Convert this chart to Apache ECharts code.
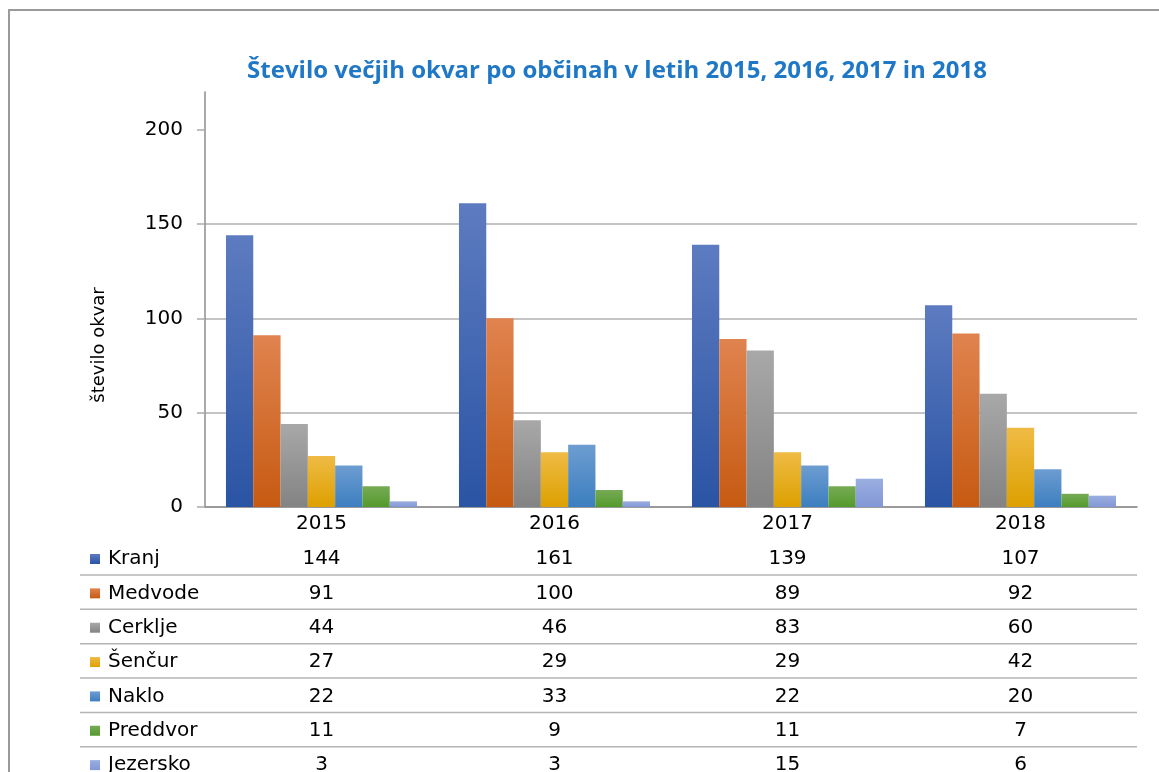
<!DOCTYPE html>
<html>
<head>
<meta charset="utf-8">
<script src="https://cdn.jsdelivr.net/npm/echarts@6/dist/echarts.min.js"></script>
<style>
  html, body { margin: 0; padding: 0; background: #fff; }
  #chart { width: 1159px; height: 772px; }
</style>
</head>
<body>
<div id="chart"></div>
<script>
const years = ['2015', '2016', '2017', '2018'];
const municipalities = ['Kranj', 'Medvode', 'Cerklje', 'Šenčur', 'Naklo', 'Preddvor', 'Jezersko'];
const kranj = [144, 161, 139, 107];
const medvode = [91, 100, 89, 92];
const cerklje = [44, 46, 83, 60];
const sencur = [27, 29, 29, 42];
const naklo = [22, 33, 22, 20];
const preddvor = [11, 9, 11, 7];
const jezersko = [3, 3, 15, 6];
const yTicks = [0, 50, 100, 150, 200];

const seriesValues = [kranj, medvode, cerklje, sencur, naklo, preddvor, jezersko];
// top / bottom colour of each bar gradient
const barColors = [
  ['#5d7bc0', '#2a54a4'],
  ['#e0834f', '#c65a12'],
  ['#a8a8a8', '#838383'],
  ['#efbb45', '#dda000'],
  ['#6d9dd1', '#3c7ebf'],
  ['#76ab55', '#549a2c'],
  ['#9aaee0', '#8297d6']
];

const font = 'DejaVu Sans';
const rowPitch = 34.35;

const chart = echarts.init(document.getElementById('chart'));

// one hidden-line category axis per table row, showing that row's values
const tableAxes = seriesValues.map((vals, i) => ({
  type: 'category',
  gridIndex: 0,
  position: 'bottom',
  offset: 35 + rowPitch * i,
  data: vals.map(String),
  axisLine: { show: false },
  axisTick: { show: false },
  splitLine: { show: false },
  axisLabel: { color: '#000', fontFamily: font, fontSize: 20, margin: 7 }
}));

const rowLines = [];
for (let i = 0; i < municipalities.length - 1; i++) {
  const y = 575 + rowPitch * i;
  rowLines.push({
    type: 'line',
    shape: { x1: 80, y1: y, x2: 1137, y2: y },
    style: { stroke: '#b4b4b4', lineWidth: 1.5 },
    silent: true
  });
}

const option = {
  animation: false,
  backgroundColor: '#fff',
  title: {
    text: 'Število večjih okvar po občinah v letih 2015, 2016, 2017 in 2018',
    left: 612,
    top: 54,
    textAlign: 'center',
    textStyle: { color: '#1f78c6', fontFamily: 'Open Sans', fontWeight: 'bold', fontSize: 24 }
  },
  legend: {
    orient: 'vertical',
    left: 90,
    top: 549,
    height: 260,
    padding: 0,
    itemWidth: 10,
    itemHeight: 10,
    itemGap: rowPitch - 20,
    icon: 'rect',
    selectedMode: false,
    textStyle: { color: '#000', fontFamily: font, fontSize: 20, lineHeight: 20, padding: [0, 0, 0, 3] },
    data: municipalities
  },
  grid: { left: 205, right: 22, top: 92, bottom: 265, containLabel: false, outerBoundsMode: 'none' },
  xAxis: [
    {
      type: 'category',
      data: years,
      axisLine: { lineStyle: { color: '#8c8c8c', width: 1.5 } },
      axisTick: { show: false },
      axisLabel: { color: '#000', fontFamily: font, fontSize: 20, margin: 7 }
    }
  ].concat(tableAxes),
  yAxis: {
    type: 'value',
    min: 0,
    max: 220,
    interval: 50,
    name: 'število okvar',
    nameLocation: 'middle',
    nameGap: 97,
    nameRotate: 90,
    nameTextStyle: { color: '#000', fontFamily: font, fontSize: 18, padding: [0, 91, 0, 0] },
    axisLine: { show: true, lineStyle: { color: '#8c8c8c', width: 1.5 } },
    axisTick: { show: true, length: 8, customValues: yTicks, lineStyle: { color: '#aaa', width: 1.5 } },
    axisLabel: { color: '#000', fontFamily: font, fontSize: 20, margin: 22, customValues: yTicks },
    splitLine: { showMaxLine: false, lineStyle: { color: '#b0b0b0', width: 1.5 } }
  },
  series: municipalities.map((name, i) => ({
    name: name,
    type: 'bar',
    xAxisIndex: 0,
    data: seriesValues[i],
    barGap: '0%',
    barCategoryGap: '18%',
    itemStyle: {
      color: new echarts.graphic.LinearGradient(0, 0, 0, 1, [
        { offset: 0, color: barColors[i][0] },
        { offset: 1, color: barColors[i][1] }
      ])
    }
  })),
  graphic: [
    {
      type: 'rect',
      shape: { x: 9, y: 10, width: 1170, height: 800 },
      style: { fill: 'none', stroke: '#9a9a9a', lineWidth: 2 },
      silent: true
    }
  ].concat(rowLines)
};

chart.setOption(option);
window.addEventListener('resize', () => chart.resize());
</script>
</body>
</html>
